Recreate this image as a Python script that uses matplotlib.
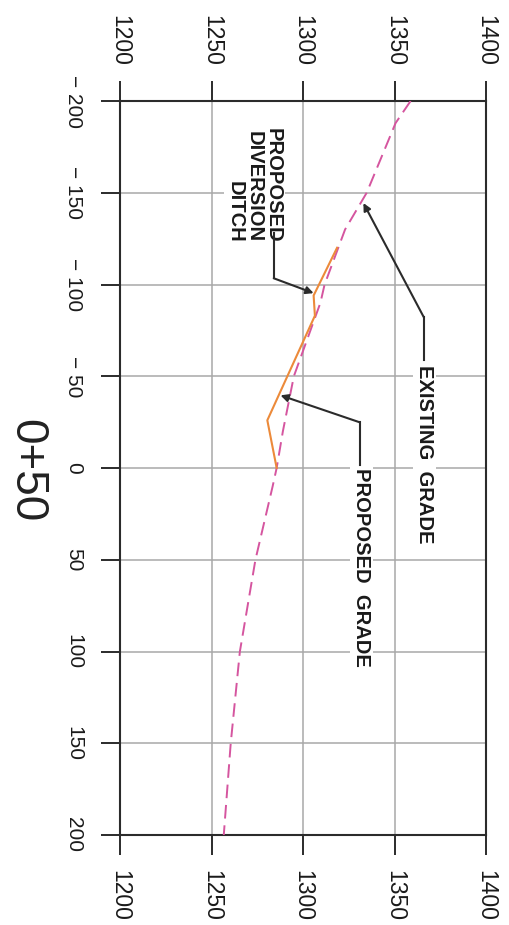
import numpy as np
import matplotlib
matplotlib.use('Agg')
import matplotlib.pyplot as plt

# cross section 0+50 : station (ft) vs elevation (ft)
exist_sta = [-200, -188, -150, -130, -100, -90, -50, -20, 0, 10, 50, 100, 150, 200]
exist_elev = [1358.8, 1350.6, 1334.8, 1323, 1311.8, 1309.5, 1295, 1289, 1285.6, 1283.4, 1274, 1265.5, 1260.5, 1256.7]

prop_sta = [-120, -94, -83, -26, 0]
prop_elev = [1318.6, 1305.8, 1306.5, 1280.5, 1285.6]

elev_ticks = [1200, 1250, 1300, 1350, 1400]
sta_ticks = [-200, -150, -100, -50, 0, 50, 100, 150, 200]
title = '0+50'

plt.rcParams['font.family'] = ['Liberation Sans', 'DejaVu Sans']
ink = '#2b2b2b'

fig = plt.figure(figsize=(5.09, 9.25), dpi=100)
ax = fig.add_axes([0.2358, 0.0973, 0.719, 0.7935])

ax.plot(exist_elev, exist_sta, color='#d5559f', lw=1.4, linestyle=(0, (7, 3.5)), zorder=3)
ax.plot(prop_elev, prop_sta, color='#ec8a3a', lw=1.5, zorder=4)

ax.set_xlim(1200, 1400)
ax.set_ylim(200, -200)
ax.set_xticks(elev_ticks)
ax.set_yticks(sta_ticks)
ax.set_xticklabels([str(v) for v in elev_ticks], rotation=270, fontsize=16.5, color='#1a1a1a')
ax.set_yticklabels([str(v).replace('-', '\u2212 ') if v < 0 else str(v) for v in sta_ticks],
                   rotation=270, fontsize=15, va='center', color='#1a1a1a')
ax.tick_params(axis='x', top=True, labeltop=True, bottom=True, labelbottom=True,
               direction='out', length=14.5, width=1.4, color=ink, pad=11)
ax.tick_params(axis='y', left=True, right=False, direction='out', length=13.5,
               width=1.4, color=ink, pad=13)
ax.grid(True, color='#a8a8a8', lw=1.1, zorder=0)
for s in ax.spines.values():
    s.set_color(ink)
    s.set_linewidth(1.5)

box = dict(fc='white', ec='none', pad=1.5)
arrow = dict(arrowstyle='-|>', color=ink, lw=1.5, mutation_scale=11, shrinkA=0, shrinkB=0)
note = dict(rotation=270, fontsize=14.5, fontweight='bold', color='#1a1a1a', bbox=box, zorder=5)

# proposed diversion ditch note
ax.text(1289, -185.3, 'PROPOSED\nDIVERSION\nDITCH', ha='right', va='top',
        linespacing=1.0, **note)
ax.plot([1284, 1284], [-128, -103.4], color=ink, lw=1.5, zorder=5)
ax.annotate('', xy=(1305.8, -95.3), xytext=(1284, -103.4), arrowprops=arrow, zorder=5)

# existing grade note
ax.text(1366.2, -56, 'EXISTING  GRADE', ha='center', va='top', **note)
ax.plot([1366, 1366], [-58.7, -82.2], color=ink, lw=1.5, zorder=5)
ax.annotate('', xy=(1333, -144.4), xytext=(1366, -82.2), arrowprops=arrow, zorder=5)

# proposed grade note
ax.text(1331.7, 0.2, 'PROPOSED  GRADE', ha='center', va='top', **note)
ax.plot([1331, 1331], [-1.4, -24.9], color=ink, lw=1.5, zorder=5)
ax.annotate('', xy=(1287.7, -39.6), xytext=(1331, -24.9), arrowprops=arrow, zorder=5)

fig.text(26 / 509, 1 - 471 / 925, title, rotation=270, ha='center', va='center',
         fontsize=33, color='#222222')

fig.savefig('out.png', dpi=100)
